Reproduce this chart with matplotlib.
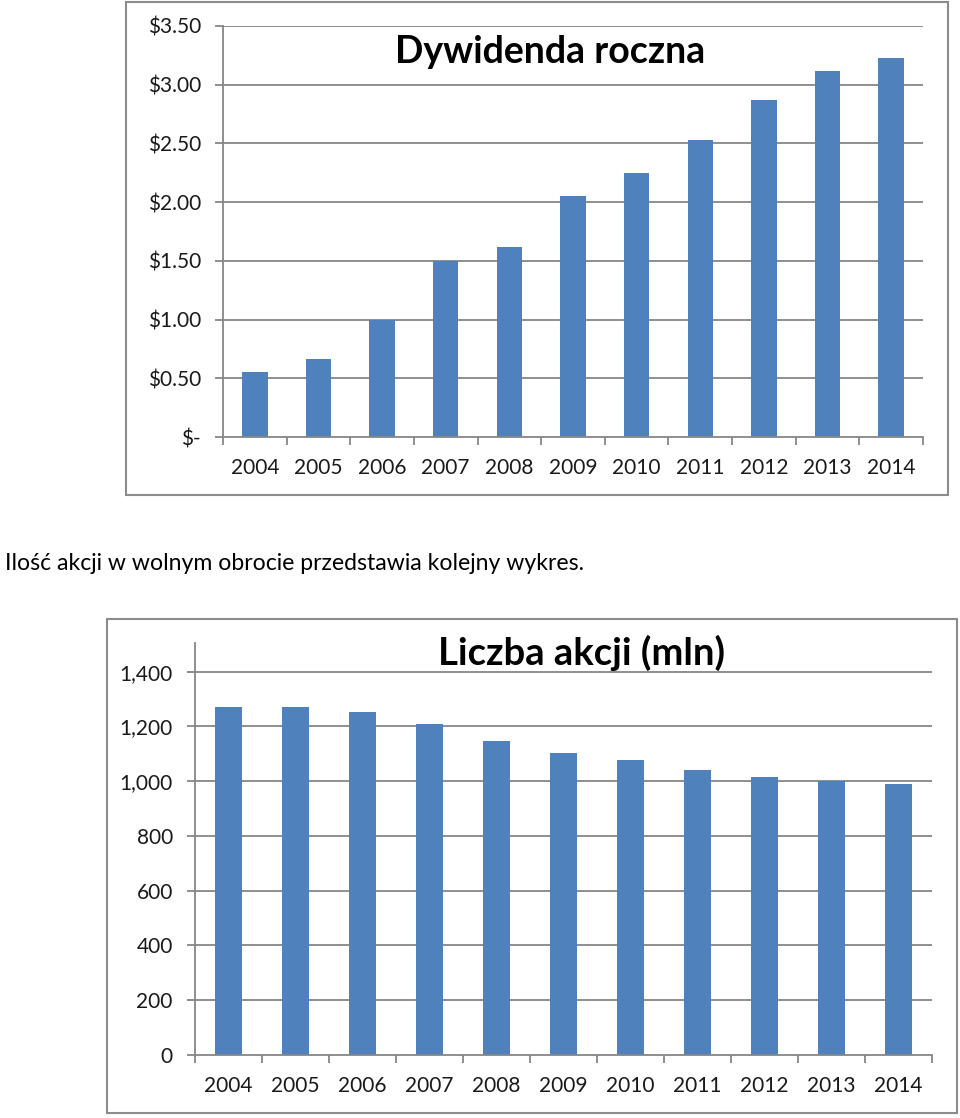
import matplotlib
matplotlib.use("Agg")
import matplotlib.pyplot as plt
from matplotlib.patches import Rectangle
from matplotlib.ticker import FixedLocator

plt.rcParams['font.family'] = ['Lato', 'DejaVu Sans']

years = ["2004", "2005", "2006", "2007", "2008", "2009", "2010", "2011", "2012", "2013", "2014"]
dividends = [0.55, 0.66, 1.00, 1.50, 1.62, 2.05, 2.25, 2.53, 2.87, 3.12, 3.23]
shares_mln = [1272, 1272, 1253, 1209, 1147, 1102, 1077, 1040, 1017, 1001, 990]

div_ticks = [0, 0.5, 1.0, 1.5, 2.0, 2.5, 3.0, 3.5]
div_labels = ["$-", "$0.50", "$1.00", "$1.50", "$2.00", "$2.50", "$3.00", "$3.50"]
share_ticks = [0, 200, 400, 600, 800, 1000, 1200, 1400]
share_labels = ["0", "200", "400", "600", "800", "1,000", "1,200", "1,400"]

title1 = "Dywidenda roczna"
title2 = "Liczba akcji (mln)"
caption = "Ilość akcji w wolnym obrocie przedstawia kolejny wykres."

BAR = "#4F81BD"
GRID = "#868686"
TXT = "#1a1a1a"
TICK_FS = 15

W, H = 960, 1118
fig = plt.figure(figsize=(W / 100, H / 100), dpi=100)

def px_rect(x0, y0, x1, y1):
    return [x0 / W, 1 - y1 / H, (x1 - x0) / W, (y1 - y0) / H]

def frame(x0, y0, x1, y1):
    r = Rectangle((x0 / W, 1 - y1 / H), (x1 - x0) / W, (y1 - y0) / H,
                  transform=fig.transFigure, fill=False, edgecolor="#8c8c8c", lw=1.5)
    fig.patches.append(r)

def style(ax, yt, yl, ymax):
    x = list(range(len(years)))
    ax.set_xlim(-0.5, len(years) - 0.5)
    ax.set_ylim(0, ymax)
    ax.yaxis.set_major_locator(FixedLocator(yt))
    ax.set_yticklabels(yl)
    ax.set_xticks(x)
    ax.set_xticklabels(years)
    ax.xaxis.set_minor_locator(FixedLocator([i - 0.5 for i in range(len(years) + 1)]))
    ax.tick_params(axis="x", which="major", length=0, pad=15, labelsize=TICK_FS, labelcolor=TXT)
    ax.tick_params(axis="x", which="minor", length=6, color=GRID, width=1.3, direction="out")
    ax.tick_params(axis="y", length=6, color=GRID, width=1.3, pad=10, labelsize=TICK_FS, labelcolor=TXT)
    for s in ["top", "right"]:
        ax.spines[s].set_visible(False)
    for s in ["left", "bottom"]:
        ax.spines[s].set_color(GRID)
        ax.spines[s].set_linewidth(1.3)
    for v in yt[1:]:
        ax.axhline(v, color=GRID, lw=1.3, zorder=0)
    ax.set_facecolor("none")

# top chart
frame(126, 2, 948, 495)
ax1 = fig.add_axes(px_rect(223, 26, 923, 437))
ax1.bar(range(len(years)), dividends, width=0.4, color=BAR, zorder=2)
style(ax1, div_ticks, div_labels, 3.5)
fig.text(550 / W, 1 - 52 / H, title1, ha="center", va="center", fontsize=27, fontweight="bold", color="black")

# caption
fig.text(5 / W, 1 - 563 / H, caption, ha="left", va="center", fontsize=16.6, color="black")

# bottom chart
frame(107, 619, 957, 1113)
ax2 = fig.add_axes(px_rect(195, 643, 932, 1055))
ax2.bar(range(len(years)), shares_mln, width=0.4, color=BAR, zorder=2)
style(ax2, share_ticks, share_labels, 1505)
fig.text(582 / W, 1 - 653 / H, title2, ha="center", va="center", fontsize=27.5, fontweight="bold", color="black")

fig.savefig("out.png", dpi=100)
